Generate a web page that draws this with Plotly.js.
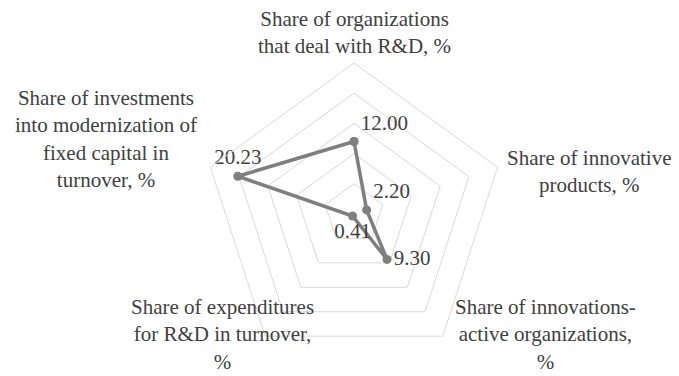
<!DOCTYPE html>
<html>
<head>
<meta charset="utf-8">
<script src="https://cdn.plot.ly/plotly-3.0.1.min.js"></script>
<style>
html,body{margin:0;padding:0;background:#fff;}
#chart{width:679px;height:376px;}
#chart svg text{font-family:"Liberation Serif","Times New Roman",serif !important;}
</style>
</head>
<body>
<div id="chart"></div>
<script>
// Categories (clockwise from top)
const categories = [
  "Share of organizations that deal with R&D, %",
  "Share of innovative products, %",
  "Share of innovations-active organizations, %",
  "Share of expenditures for R&D in turnover, %",
  "Share of investments into modernization of fixed capital in turnover, %"
];
const categoryLabels = [
  "Share of organizations<br>that deal with R&amp;D, %",
  "Share of innovative<br>products, %",
  "Share of innovations-<br>active organizations,<br>%",
  "Share of expenditures<br>for R&amp;D in turnover,<br>%",
  "Share of investments<br>into modernization of<br>fixed capital in<br>turnover, %"
];
const values = [12.00, 2.20, 9.30, 0.41, 20.23];
const valueLabels = ["12.00", "2.20", "9.30", "0.41", "20.23"];

const font = "Liberation Serif";
const txtColor = "#404040";
const lineColor = "#7f7f7f";
const gridColor = "#d9d9d9";

const trace = {
  type: "scatterpolar",
  r: values.concat([values[0]]),
  theta: categories.concat([categories[0]]),
  text: valueLabels.concat([""]),
  mode: "lines+markers+text",
  textposition: ["top right", "top right", "middle right", "bottom center", "top center", "top right"],
  textfont: {family: font, size: 21, color: txtColor},
  line: {color: lineColor, width: 3.5},
  marker: {color: lineColor, size: 9},
  hoverinfo: "skip",
  cliponaxis: false
};

const annPos = [
  {x: 354, y: 32},
  {x: 589, y: 172},
  {x: 545, y: 334},
  {x: 222, y: 334},
  {x: 106, y: 139}
];
const W = 679, H = 376;
const annotations = categoryLabels.map((t, i) => ({
  text: t,
  xref: "paper", yref: "paper",
  x: annPos[i].x / W, y: 1 - annPos[i].y / H,
  xanchor: "center", yanchor: "middle",
  showarrow: false,
  align: "center",
  font: {family: font, size: 21, color: txtColor}
}));

const cx = 354, cy = 214, R = 151;
const layout = {
  width: W, height: H,
  margin: {l: 0, r: 0, t: 0, b: 0},
  paper_bgcolor: "#fff",
  showlegend: false,
  font: {family: font, color: txtColor},
  polar: {
    domain: {x: [(cx - R) / W, (cx + R) / W], y: [(H - cy - R) / H, (H - cy + R) / H]},
    gridshape: "linear",
    bgcolor: "rgba(0,0,0,0)",
    radialaxis: {
      range: [0, 25], dtick: 5, showticklabels: false, ticks: "",
      showline: false, gridcolor: gridColor, gridwidth: 1
    },
    angularaxis: {
      direction: "clockwise", rotation: 90,
      showticklabels: false, ticks: "", showgrid: false,
      showline: true, linecolor: gridColor, linewidth: 1
    }
  },
  annotations: annotations
};

Plotly.newPlot("chart", [trace], layout, {displayModeBar: false, staticPlot: true});
</script>
</body>
</html>
